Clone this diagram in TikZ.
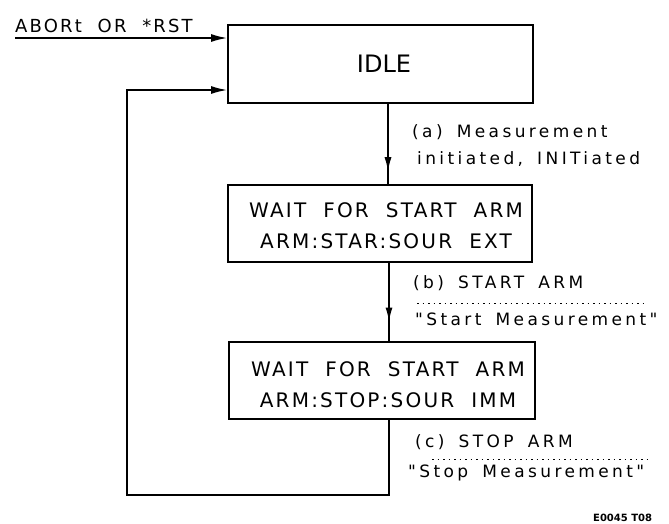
\documentclass[tikz,border=0pt]{standalone}
\usepackage{fontspec}
\setmainfont{DejaVu Sans}
\newfontfamily\boxfont[LetterSpace=11,WordSpace=2]{DejaVu Sans}
\newfontfamily\labfont[LetterSpace=20,WordSpace=1.6]{DejaVu Sans}
\newfontfamily\abfont[LetterSpace=12,WordSpace=2]{DejaVu Sans}
\usetikzlibrary{arrows.meta,decorations.markings}
\tikzset{
  statebox/.style={draw, line width=2pt, rectangle, inner sep=0pt},
  boxtext/.style={align=center, inner sep=0pt, font=\boxfont\fontsize{20}{31}\selectfont},
  lab/.style={anchor=base west, inner sep=0pt, font=\labfont\fontsize{17}{20}\selectfont},
  conn/.style={line width=1.4pt},
  tip/.style={-{Latex[length=16pt,width=8pt]}},
  dotline/.style={line width=1pt, dash pattern=on 1.5pt off 4pt},
}
\begin{document}
\begin{tikzpicture}[x=1pt,y=-1pt]
\useasboundingbox (0,0) rectangle (669,523);
% boxes
\node[statebox, minimum width=305pt, minimum height=78pt] (idle) at (380.5,64) {};
\node[font=\fontsize{24}{28}\selectfont, inner sep=0pt] (idlet) at (384,64) {IDLE};
\node[statebox, minimum width=304pt, minimum height=77pt] (wait1) at (380,223.5) {};
\node[boxtext] (w1t) at (386,226) {WAIT FOR START ARM\\ARM:STAR:SOUR EXT};
\node[statebox, minimum width=306pt, minimum height=77pt] (wait2) at (382,380.5) {};
\node[boxtext] (w2t) at (388,385) {WAIT FOR START ARM\\ARM:STOP:SOUR IMM};
% helper coordinates
\coordinate (c1) at (388,0);
\coordinate (c2) at (389,0);
\coordinate (ab) at (15,38);
\coordinate (bl) at (127,495);
\coordinate (tl) at (127,90);
% connectors
\draw[conn, postaction={decorate}, decoration={markings, mark=at position 0.84 with {\arrow{Latex[length=14pt,width=7pt]}}}]
  (idle.south -| c1) -- (wait1.north -| c1);
\draw[conn, postaction={decorate}, decoration={markings, mark=at position 0.75 with {\arrow{Latex[length=14pt,width=7pt]}}}]
  (wait1.south -| c2) -- (wait2.north -| c2);
\draw[conn, tip] (ab) -- (idle.west |- ab);
\draw[conn, tip] (wait2.south -| c2) |- (bl) |- (idle.west |- tl);
% texts
\node[anchor=base west, inner sep=0pt, font=\abfont\fontsize{18}{22}\selectfont] (abort) at (15,32) {ABORt OR *RST};
\node[lab] (la1) at (412,137) {(a) Measurement};
\node[lab] (la2) at (417,164) {initiated, INITiated};
\node[lab] (lb1) at (413,288) {(b) START ARM};
\draw[dotline] (417,303) -- (647,303);
\node[lab] (lb2) at (415,325) {"Start Measurement"};
\node[lab] (lc1) at (415,447) {(c) STOP ARM};
\draw[dotline] (432,459) -- (647,459);
\node[lab] (lc2) at (408,477) {"Stop Measurement"};
\node[anchor=base west, inner sep=0pt, font=\bfseries\fontsize{10}{12}\selectfont] (fig) at (593,521) {E0045 T08};
\end{tikzpicture}
\end{document}
